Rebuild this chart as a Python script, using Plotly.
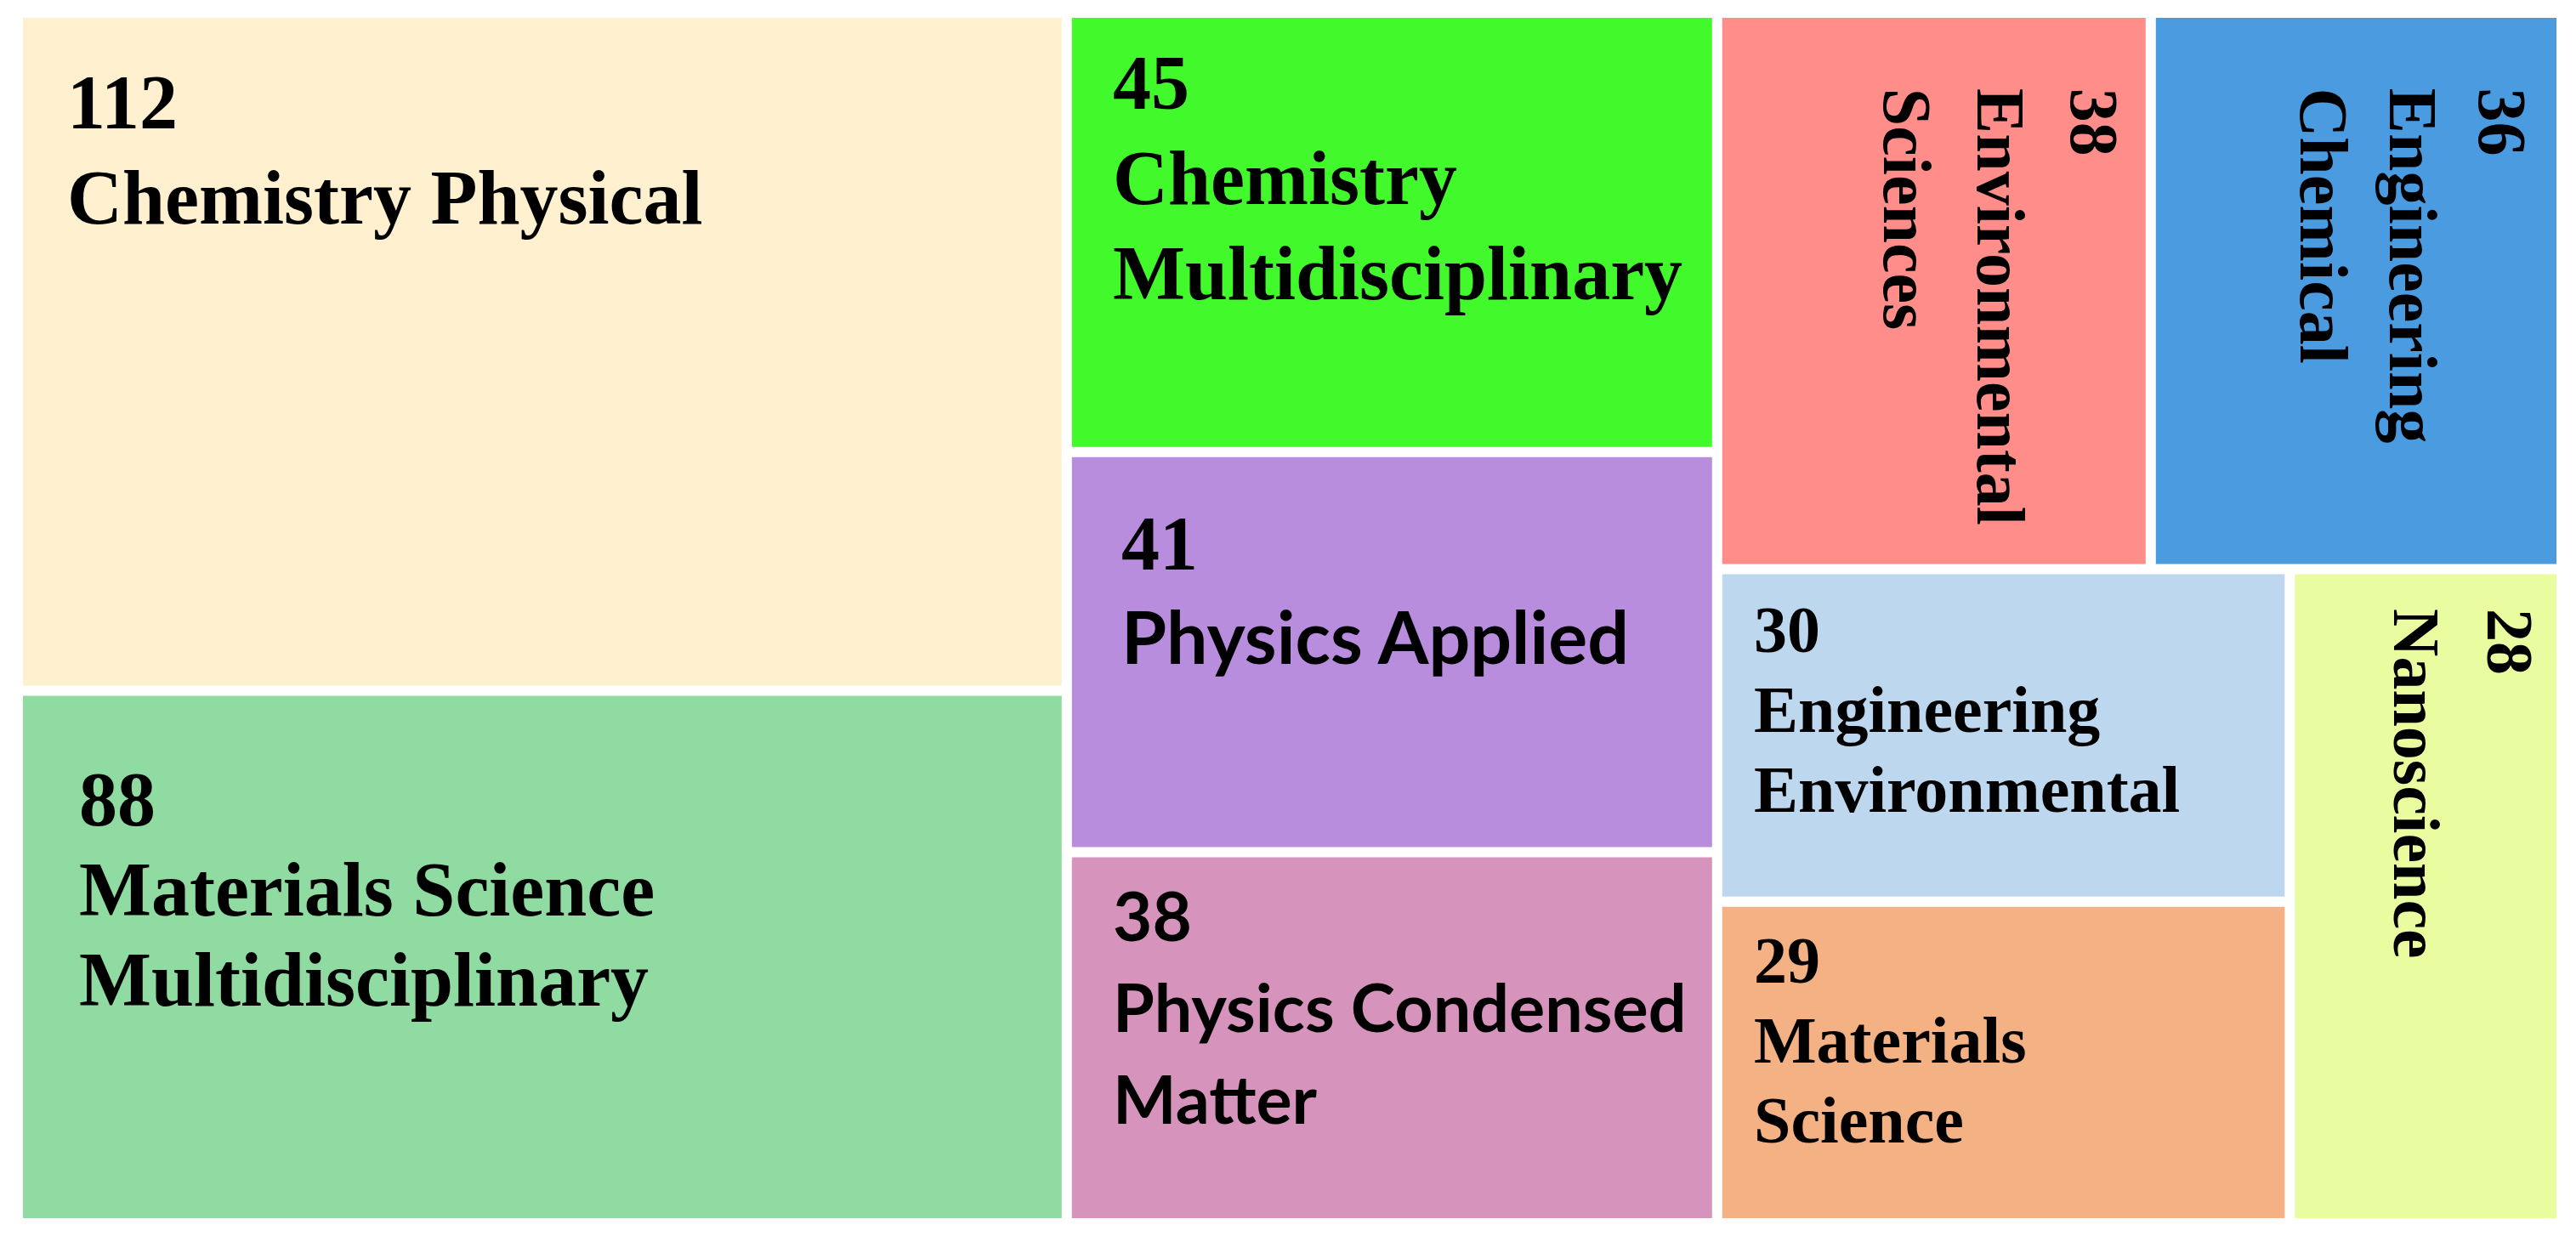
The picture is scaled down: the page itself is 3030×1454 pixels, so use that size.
import plotly.graph_objects as go

# ---------------- data ----------------
categories = [
    "Chemistry Physical",
    "Materials Science Multidisciplinary",
    "Chemistry Multidisciplinary",
    "Physics Applied",
    "Physics Condensed Matter",
    "Environmental Sciences",
    "Engineering Chemical",
    "Engineering Environmental",
    "Materials Science",
    "Nanoscience",
]
counts = [112, 88, 45, 41, 38, 38, 36, 30, 29, 28]
label_lines = [
    ["Chemistry Physical"],
    ["Materials Science", "Multidisciplinary"],
    ["Chemistry", "Multidisciplinary"],
    ["Physics Applied"],
    ["Physics Condensed", "Matter"],
    ["Environmental", "Sciences"],
    ["Engineering", "Chemical"],
    ["Engineering", "Environmental"],
    ["Materials", "Science"],
    ["Nanoscience"],
]
colors = [
    "#FFF1D0", "#8FDBA1", "#42F92C", "#B98DDE", "#D694BD",
    "#FF8D8A", "#4A9BE0", "#BDD7EE", "#F4B183", "#EAFCA0",
]

# ---------------- styles (not data) ----------------
SERIF = "Liberation Serif"
SANS = "Lato"
# num_font, label_font, num_size, label_size, rotated, pad_side, pad_top(cap top), line spacing
styles = [
    (SERIF, SERIF, 90, 90, False, 50, 71, 112),
    (SERIF, SERIF, 90, 90, False, 64, 93, 106),
    (SERIF, SERIF, 90, 90, False, 46, 48, 112),
    (SERIF, SANS, 90, 86, False, 56, 73, 108),
    (SANS, SANS, 80, 79, False, 46, 41, 108),
    (SERIF, SERIF, 80, 80, True, 35, 81, 110),
    (SERIF, SERIF, 80, 80, True, 38, 81, 105),
    (SERIF, SERIF, 78, 78, False, 35, 39, 94),
    (SERIF, SERIF, 78, 78, False, 35, 37, 94),
    (SERIF, SERIF, 78, 78, True, 29, 39, 110),
]

PAGE_W, PAGE_H = 3030, 1454
BODY = 8  # default page body margin
W, H = PAGE_W - 2 * BODY, PAGE_H - 2 * BODY
GAP = 6
BOX = (27 - GAP, 21 - GAP, 3007 + GAP, 1433 + GAP)
PHI = (1 + 5 ** 0.5) / 2


def squarify(values, x0, y0, x1, y1, ratio=PHI):
    """d3-hierarchy squarify tiling (y grows downward)."""
    n = len(values)
    rects = [None] * n
    value = float(sum(values))
    i0 = i1 = 0
    while i0 < n:
        dx, dy = x1 - x0, y1 - y0
        sum_v = values[i1]
        i1 += 1
        min_v = max_v = sum_v
        alpha = max(dy / dx, dx / dy) / (value * ratio)
        beta = sum_v * sum_v * alpha
        min_ratio = max(max_v / beta, beta / min_v)
        while i1 < n:
            nv = values[i1]
            sum_v += nv
            min_v = min(min_v, nv)
            max_v = max(max_v, nv)
            beta = sum_v * sum_v * alpha
            new_ratio = max(max_v / beta, beta / min_v)
            if new_ratio > min_ratio:
                sum_v -= nv
                break
            min_ratio = new_ratio
            i1 += 1
        row = list(range(i0, i1))
        if dx < dy:
            ye = y0 + dy * sum_v / value
            cx = x0
            for k in row:
                w = (x1 - x0) * values[k] / sum_v
                rects[k] = (cx, y0, cx + w, ye)
                cx += w
            y0 = ye
        else:
            xe = x0 + dx * sum_v / value
            cy = y0
            for k in row:
                h = (y1 - y0) * values[k] / sum_v
                rects[k] = (x0, cy, xe, cy + h)
                cy += h
            x0 = xe
        value -= sum_v
        i0 = i1
    return rects


rects = squarify(counts, *BOX)

fig = go.Figure()
annotations = []
for i, (cat, val, (a, b, c, d)) in enumerate(zip(categories, counts, rects)):
    a, b, c, d = a + GAP, b + GAP, c - GAP, d - GAP
    fig.add_trace(go.Scatter(
        x=[a, c, c, a, a], y=[b, b, d, d, b],
        fill="toself", fillcolor=colors[i], mode="lines",
        line=dict(width=0, color=colors[i]),
        hoverinfo="text", text=f"{cat}: {val}", showlegend=False,
    ))
    nf, lf, nsize, lsize, rot, pside, ptop, sp = styles[i]
    lines = [(str(val), nf, nsize)] + [(t, lf, lsize) for t in label_lines[i]]
    for j, (txt, fam, size) in enumerate(lines):
        asc = 0.27 if fam == SANS else 0.23
        off = -asc * size - 2
        if not rot:
            annotations.append(dict(
                x=a + pside, y=b + ptop + off + j * sp, xref="x", yref="y",
                text=txt, showarrow=False, xanchor="left", yanchor="top",
                font=dict(family=fam, size=size, color="#000000", weight="bold"),
            ))
        else:
            annotations.append(dict(
                x=c - (pside + off) - j * sp, y=b + ptop, xref="x", yref="y",
                text=txt, showarrow=False, xanchor="right", yanchor="top",
                textangle=90,
                font=dict(family=fam, size=size, color="#000000", weight="bold"),
            ))

fig.update_layout(
    width=W, height=H,
    margin=dict(l=0, r=0, t=0, b=0),
    paper_bgcolor="white", plot_bgcolor="white",
    xaxis=dict(range=[BODY, BODY + W], visible=False, fixedrange=True),
    yaxis=dict(range=[BODY + H, BODY], visible=False, fixedrange=True),
    annotations=annotations,
    showlegend=False,
)

fig.write_html("out.html")
